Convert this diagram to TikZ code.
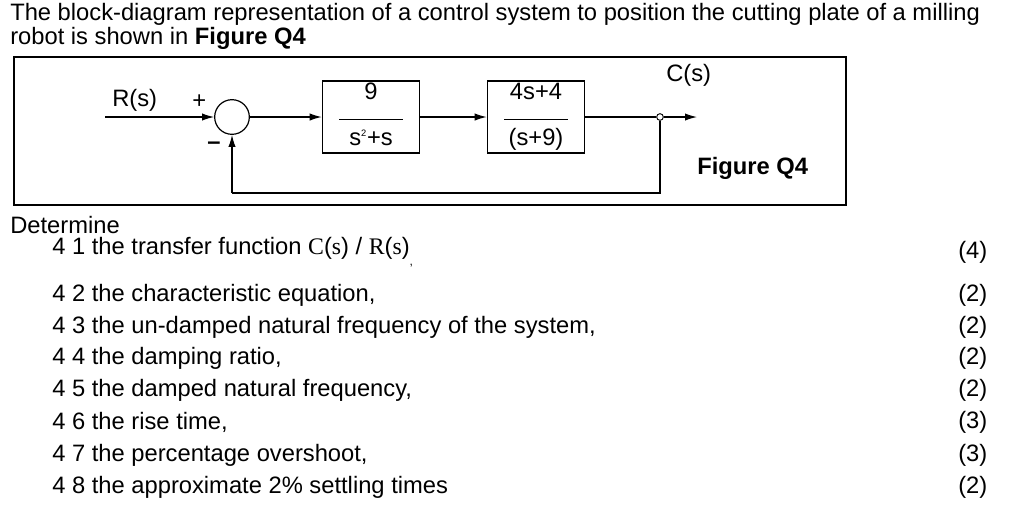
\documentclass[tikz,border=0pt]{standalone}
\usepackage{fontspec}
\setmainfont{Liberation Sans}
\newfontfamily\serifit{Liberation Serif}
\usetikzlibrary{arrows.meta}
\begin{document}
\begin{tikzpicture}[x=0.75pt,y=-0.75pt,
  txt/.style={anchor=west,inner sep=0pt,font=\fontsize{17.8}{20}\selectfont},
  blk/.style={draw,line width=0.9pt,minimum width=73pt,minimum height=52pt,inner sep=0pt,font=\fontsize{17.8}{20}\selectfont},
  sig/.style={line width=0.9pt,-{Latex[length=9pt,width=5.5pt]}},
  ln/.style={line width=0.9pt}]
\useasboundingbox (0,0) rectangle (1024,512);
\node[txt] (l1) at (10,14) {The block-diagram representation of a control system to position the cutting plate of a milling};
\node[txt] (l2) at (10,38) {robot is shown in \textbf{Figure Q4}};
\node[draw,line width=0.9pt,minimum width=624pt,minimum height=111pt,inner sep=0pt] (frame) at (430,131) {};
\node[txt] (r) at (112,100) {R(s)};
\node[txt] (plus) at (192,102) {+};
\node[txt] (minus) at (207,146) {\textbf{–}};
\node[draw,circle,line width=0.9pt,minimum size=26pt,inner sep=0pt] (sum) at (232,117) {};
\node[blk] (b1) at (371,117) {\begin{tabular}{@{}c@{}}9\\[-5pt]\rule{48pt}{0.6pt}\\[-1pt]s$^{\mbox{\scriptsize 2}}$+s\end{tabular}};
\node[blk] (b2) at (536,117) {\begin{tabular}{@{}c@{}}4s+4\\[-5pt]\rule{48pt}{0.6pt}\\[-1pt](s+9)\end{tabular}};
\node[draw,circle,fill=white,inner sep=0pt,minimum size=5pt,line width=0.7pt] (tap) at (660,117) {};
\coordinate (in) at (105,117);
\coordinate (out) at (697,117);
\coordinate (fb1) at (660,193);
\coordinate (fb2) at (232,193);
\node[txt] (c) at (666,75) {C(s)};
\node[txt] (fig) at (697,168) {\textbf{Figure Q4}};
\draw[sig] (in) -- (sum);
\draw[sig] (sum) -- (b1);
\draw[sig] (b1) -- (b2);
\draw[ln] (b2) -- (tap);
\draw[sig] (tap) -- (out);
\draw[ln] (tap) -- (fb1) -- (fb2);
\draw[sig] (fb2) -- (sum);
\node[txt] (det) at (10,225) {Determine};
\node[txt] (q1) at (52,252) {4 1 the transfer function {\serifit C}({\serifit s}) / {\serifit R}({\serifit s})\raisebox{-8pt}{\small,}};
\node[txt] (q2) at (52,295) {4 2 the characteristic equation,};
\node[txt] (q3) at (52,327) {4 3 the un-damped natural frequency of the system,};
\node[txt] (q4) at (52,358) {4 4 the damping ratio,};
\node[txt] (q5) at (52,390) {4 5 the damped natural frequency,};
\node[txt] (q6) at (52,422) {4 6 the rise time,};
\node[txt] (q7) at (52,455) {4 7 the percentage overshoot,};
\node[txt] (q8) at (52,487) {4 8 the approximate 2\% settling times};
\node[txt] (m1) at (958,252) {(4)};
\node[txt] (m2) at (958,295) {(2)};
\node[txt] (m3) at (958,327) {(2)};
\node[txt] (m4) at (958,358) {(2)};
\node[txt] (m5) at (958,390) {(2)};
\node[txt] (m6) at (958,422) {(3)};
\node[txt] (m7) at (958,455) {(3)};
\node[txt] (m8) at (958,487) {(2)};
\end{tikzpicture}
\end{document}
